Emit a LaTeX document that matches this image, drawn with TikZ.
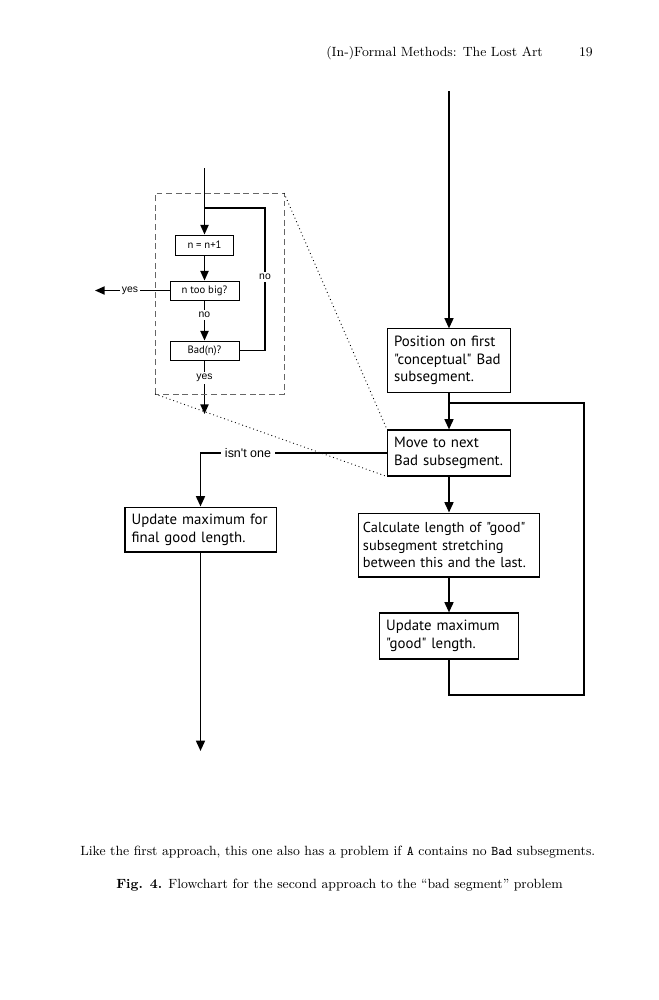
\documentclass[tikz,border=0pt]{standalone}
\usepackage{fontspec}
\newfontfamily\boxfont{PT Sans}
\newfontfamily\labelfont{Liberation Sans}
\usetikzlibrary{arrows.meta}

\tikzset{
	flowbox/.style={draw, line width=0.7pt, align=left, inner xsep=4.5pt, inner ysep=1pt, font=\boxfont\fontsize{10}{11.9}\selectfont},
	smallbox/.style={draw, line width=0.6pt, inner sep=0pt, font=\boxfont\fontsize{7.2}{8}\selectfont},
	flow/.style={line width=1.3pt, -{Triangle[length=7pt,width=6pt]}},
	flowline/.style={line width=1.3pt},
	smallflow/.style={line width=1pt, -{Triangle[length=6.5pt,width=5.5pt]}},
	smallline/.style={line width=1pt},
	lbl/.style={fill=white, inner sep=1.5pt, font=\labelfont\fontsize{7}{8}\selectfont}
}

\begin{document}
\begin{tikzpicture}[x=0.674pt, y=-0.674pt]
		%%%%% START %%%%%
		\useasboundingbox (0, 0) rectangle (659, 1000);
		
		\node[anchor=base east, font=\small] (head) at (548, 56) {(In-)Formal Methods: The Lost Art};
		\node[anchor=base east, font=\small] (page) at (598, 56) {19};
		
		% right column
		\coordinate (top) at (449, 91);
		\node[flowbox, text width=73.9pt, minimum height=42.5pt] (first) at (449, 360.5) {Position on first\\"conceptual" Bad\\subsegment.};
		\node[flowbox, text width=73.9pt, minimum height=31pt] (next) at (449, 453) {Move to next\\Bad subsegment.};
		\node[flowbox, text width=116pt, inner xsep=3pt, minimum height=43.1pt, font=\boxfont\fontsize{9.7}{11.9}\selectfont] (calc) at (449, 545) {Calculate length of "good"\\subsegment stretching\\between this and the last.};
		\node[flowbox, text width=84.7pt, minimum height=31pt] (good) at (449, 636) {Update maximum\\"good" length.};
		
		\draw[flow] (top) -- (first);
		\draw[flow] (first) -- (next);
		\draw[flow] (next) -- (calc);
		\draw[flow] (calc) -- (good);
		
		\coordinate (loop) at (584, 403);
		\draw[flowline] (good.south) |- (584, 695) -- (loop) -- (first.south |- loop);
		
		% left column
		\node[flowbox, text width=92.8pt, minimum height=30.3pt] (final) at (200.5, 529.5) {Update maximum for\\final good length.};
		\draw[flow] (next.west) -| (final.north);
		\node[lbl, font=\labelfont\fontsize{8.4}{9}\selectfont, inner sep=3pt] (isnt) at (248, 453) {isn't one};
		\coordinate (end) at (200.5, 751);
		\draw[flow] (final) -- (end);
		
		% zoomed loop
		\coordinate (in) at (204.5, 168);
		\node[smallbox, minimum width=39.1pt, minimum height=13.5pt] (inc) at (204.5, 245) {n = n+1};
		\node[smallbox, minimum width=46.5pt, minimum height=12.8pt] (big) at (204.5, 290.5) {n too big?};
		\node[smallbox, minimum width=46.5pt, minimum height=12.8pt] (bad) at (204.5, 350.5) {Bad(n)?};
		\coordinate (out) at (95, 290.5);
		\coordinate (down) at (204.5, 414);
		
		\draw[smallflow] (in) -- (inc);
		\draw[smallflow] (inc) -- (big);
		\draw[smallflow] (big) -- (bad);
		\draw[smallflow] (big) -- (out);
		\draw[smallflow] (bad) -- (down);
		\draw[smallline] (bad.east) -| (265, 208) -- (in |- 0, 208);
		
		\node[lbl] (no1) at (265, 277) {no};
		\node[lbl] (no2) at (204.5, 315) {no};
		\node[lbl] (yes1) at (130, 290.5) {yes};
		\node[lbl] (yes2) at (204.5, 378) {yes};
		
		\coordinate (zt) at (284, 193);
		\coordinate (zb) at (155, 394);
		\draw[gray!80!black, line width=0.6pt, dash pattern=on 4pt off 2.5pt] (zb) rectangle (zt);
		\draw[dotted, line width=0.6pt] (zt) -- (next.north west);
		\draw[dotted, line width=0.6pt] (zb) -- (next.south west);
		
		% text below
		\node[anchor=base west, font=\small, inner sep=0pt, text width=347.1pt, align=justify] (para) at (80, 855) {\parfillskip=0pt Like the first approach, this one also has a problem if \texttt{A} contains no \texttt{Bad} subsegments.};
		\node[anchor=base, font=\small] (cap) at (339.5, 888) {\textbf{Fig. 4.} Flowchart for the second approach to the ``bad segment'' problem};
		%%%%% END %%%%%
	\end{tikzpicture}
\end{document}
